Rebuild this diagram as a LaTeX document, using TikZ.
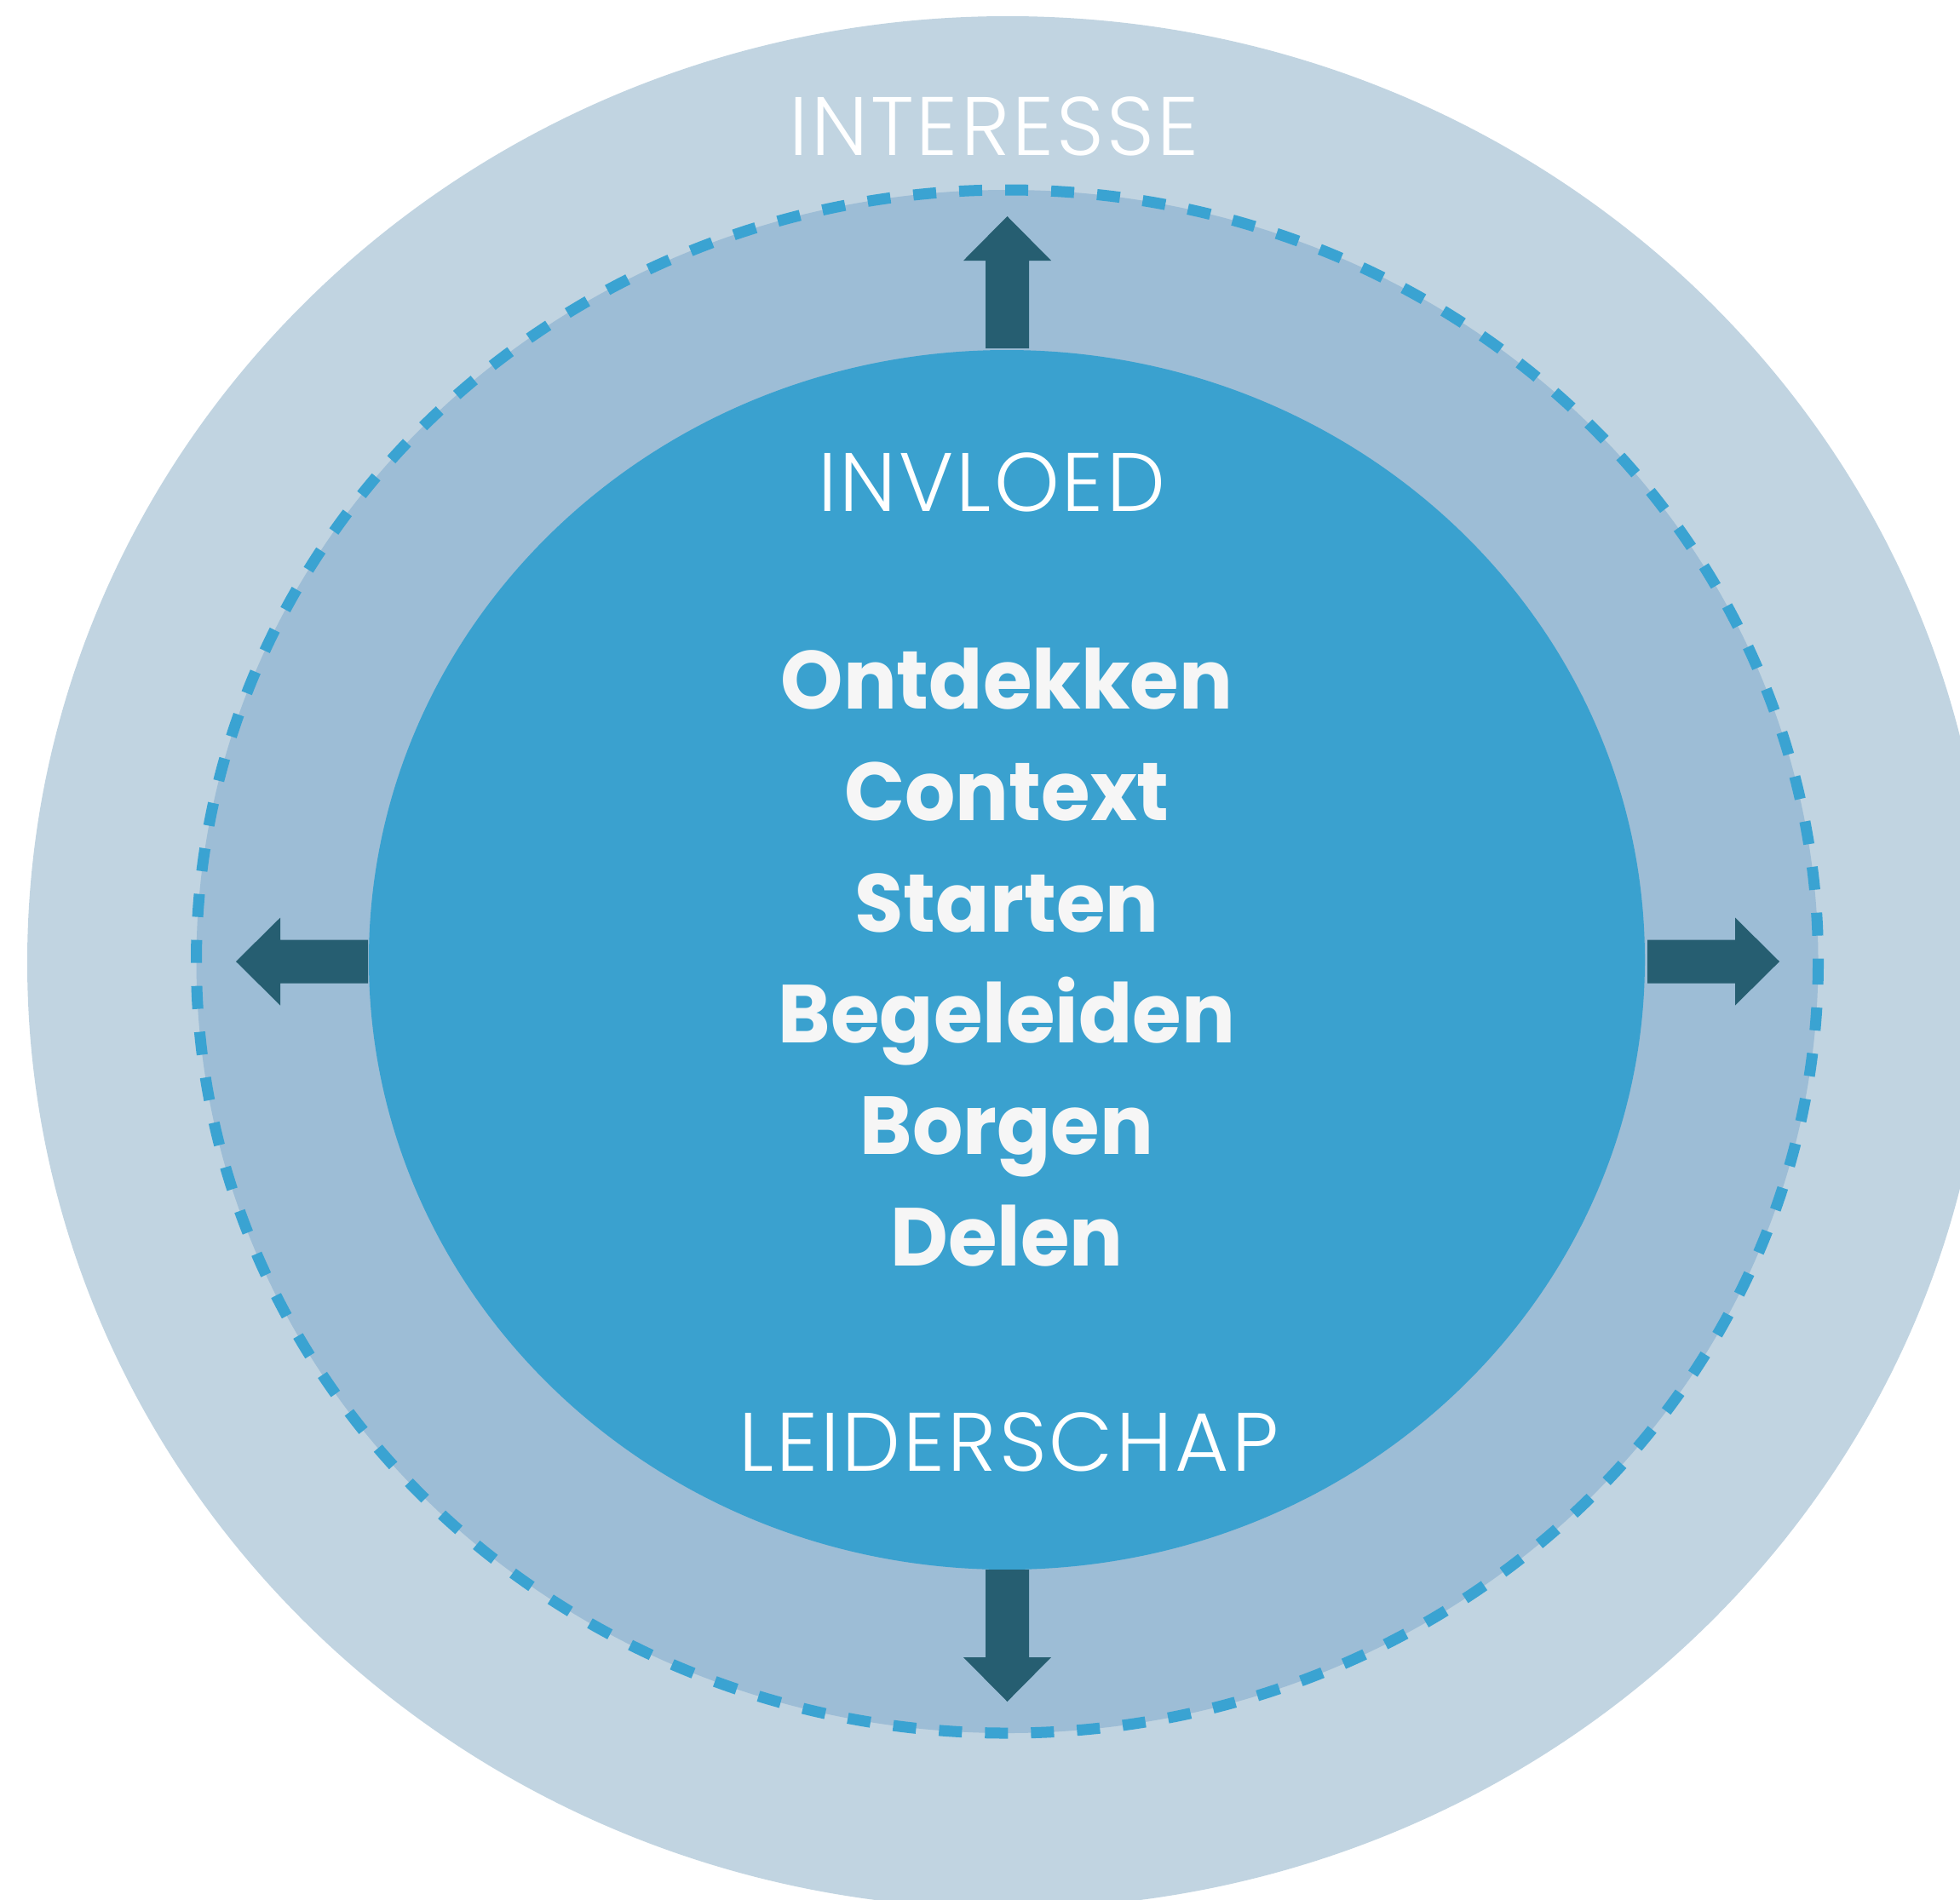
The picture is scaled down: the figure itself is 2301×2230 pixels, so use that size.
\documentclass[tikz,border=0pt]{standalone}
\usepackage{fontspec}
\setmainfont{Poppins}
\newfontfamily\lightfont{Poppins Light}[LetterSpace=3.2]
\newfontfamily\stagefont{Poppins Bold}[FakeStretch=0.965]
\usepackage{tikz}

\definecolor{outerring}{HTML}{C1D4E1}
\definecolor{midring}{HTML}{9DBDD6}
\definecolor{core}{HTML}{3AA1CF}
\definecolor{dashline}{HTML}{3AA3D2}
\definecolor{pushcol}{HTML}{265E71}
\definecolor{stagetext}{HTML}{F6F6F6}

\begin{document}
\begin{tikzpicture}[
  x=0.01cm, y=-0.01cm,
  caption/.style={text=white, anchor=base, inner sep=0pt, font=\lightfont\fontsize{27.7}{30}\selectfont},
  stage/.style={text=stagetext, anchor=base, inner sep=0pt, font=\stagefont\fontsize{27.5}{30}\selectfont},
  push/.style={fill=pushcol}
]
\useasboundingbox (0,0) rectangle (2301,2230);
\clip (0,0) rectangle (2301,2230);

% three rings
\fill[outerring] (1183,1130) ellipse [x radius=1151, y radius=1111];
\fill[midring] (1182.5,1129) ellipse [x radius=952, y radius=906];
\draw[dashline, line width=0.13cm, dash pattern=on 0.27cm off 0.27cm] (1182.5,1129) ellipse [x radius=952, y radius=906];
\fill[core] (1182,1127) ellipse [x radius=749, y radius=716];

% block arrows out of the core
\foreach \ang/\bx/\by in {90/1182.5/409, -90/1182.5/1843, 180/432/1129, 0/1934/1129}
  \fill[push, shift={(\bx,\by)}, rotate=\ang]
    (0,-25.5) -- (103,-25.5) -- (103,-51.5) -- (155,0) -- (103,51.5) -- (103,25.5) -- (0,25.5) -- cycle;

\node[caption] (interesse) at (1167,182) {INTERESSE};
\node[caption] (invloed) at (1164,600) {INVLOED};
\node[caption] (leiderschap) at (1184,1727) {LEIDERSCHAP};

\node[stage] (ontdekken) at (1182,832) {Ontdekken};
\node[stage] (context) at (1182,963) {Context};
\node[stage] (starten) at (1182,1094) {Starten};
\node[stage] (begeleiden) at (1182,1224) {Begeleiden};
\node[stage] (borgen) at (1182,1355) {Borgen};
\node[stage] (delen) at (1182,1486) {Delen};
\end{tikzpicture}
\end{document}
